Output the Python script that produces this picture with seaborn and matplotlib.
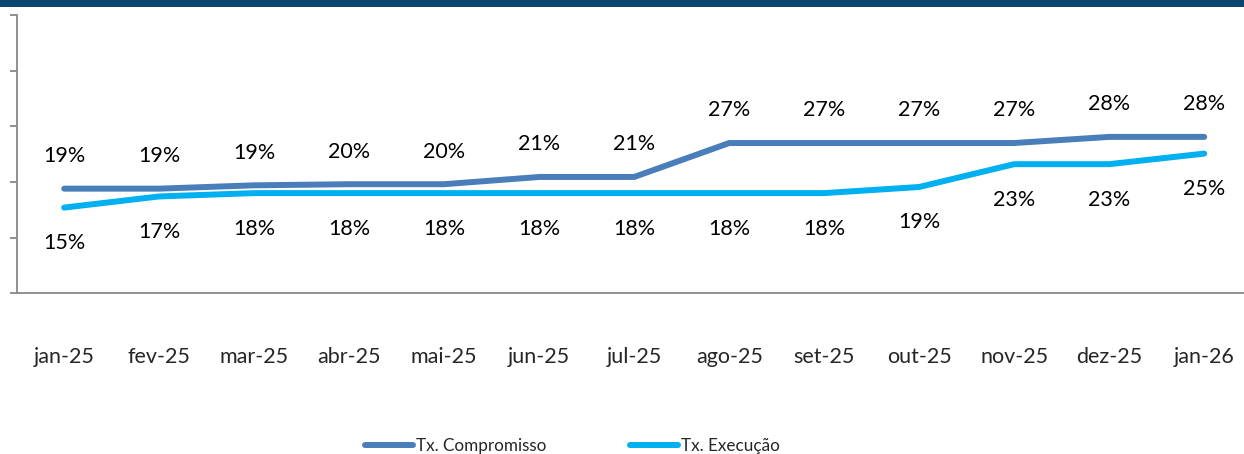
import matplotlib
matplotlib.use("Agg")
import matplotlib.pyplot as plt
import seaborn as sns
import pandas as pd
from matplotlib.patches import Rectangle

months = ["jan-25", "fev-25", "mar-25", "abr-25", "mai-25", "jun-25", "jul-25",
          "ago-25", "set-25", "out-25", "nov-25", "dez-25", "jan-26"]
compromisso = [18.8, 18.8, 19.4, 19.6, 19.6, 20.9, 20.9, 27.0, 27.0, 27.0, 27.0, 28.1, 28.1]
execucao = [15.4, 17.4, 18.0, 18.0, 18.0, 18.0, 18.0, 18.0, 18.0, 19.1, 23.2, 23.2, 25.1]
labels_comp = ["19%", "19%", "19%", "20%", "20%", "21%", "21%", "27%", "27%", "27%", "27%", "28%", "28%"]
labels_exec = ["15%", "17%", "18%", "18%", "18%", "18%", "18%", "18%", "18%", "19%", "23%", "23%", "25%"]
series_names = ["Tx. Compromisso", "Tx. Execução"]
colors = ["#4A7EBB", "#00B0F0"]

sns.set_style("white")
plt.rcParams["font.family"] = ["Lato", "DejaVu Sans"]

df = pd.DataFrame({
    "mes": months * 2,
    "pos": list(range(len(months))) * 2,
    "valor": compromisso + execucao,
    "serie": [series_names[0]] * len(months) + [series_names[1]] * len(months),
})

fig = plt.figure(figsize=(12.44, 4.54), dpi=100)
ax = fig.add_axes([16.7 / 1244, 160.7 / 454, 1235 / 1244, (439 - 160.7) / 454])

sns.lineplot(data=df, x="pos", y="valor", hue="serie", palette=colors,
             linewidth=4.3, ax=ax, legend=False, sort=False)
for line in ax.get_lines():
    line.set_solid_capstyle("round")
    line.set_solid_joinstyle("miter")

fs = 15.5
for i, (v, t) in enumerate(zip(compromisso, labels_comp)):
    ax.annotate(t, (i, v), xytext=(0, 23.5), textcoords="offset points",
                ha="center", va="center", fontsize=fs, color="black")
for i, (v, t) in enumerate(zip(execucao, labels_exec)):
    ax.annotate(t, (i, v), xytext=(0, -25.5), textcoords="offset points",
                ha="center", va="center", fontsize=fs, color="black")

ax.set_xlim(-0.5, len(months) - 0.5)
ax.set_ylim(0, 50)
ax.set_yticks([0, 10, 20, 30, 40, 50])
ax.set_yticklabels([])
ax.set_xticks([p for p in range(len(months))])
ax.set_xticklabels(months, fontsize=fs)
ax.set_xticks([p - 0.5 for p in range(len(months) + 1)], minor=True)
ax.tick_params(axis="x", which="major", length=0, pad=39)
ax.tick_params(axis="x", which="minor", length=5, width=1.3, color="#888888", direction="out")
ax.tick_params(axis="y", which="major", length=5, width=1.3, color="#888888", direction="out", left=True)
ax.set_xlabel("")
ax.set_ylabel("")
for s in ["top", "right"]:
    ax.spines[s].set_visible(False)
for s in ["left", "bottom"]:
    ax.spines[s].set_color("#888888")
    ax.spines[s].set_linewidth(1.3)

handles = [plt.Line2D([0], [0], color=c, lw=4.3, solid_capstyle="round") for c in colors]
fig.legend(handles, series_names, loc="center", bbox_to_anchor=(0.46, 0.018),
           ncol=2, frameon=False, fontsize=12.3, handlelength=2.8, handletextpad=0.18,
           columnspacing=4.9)

fig.patches.append(Rectangle((0, 1 - 7 / 454), 1, 7 / 454, transform=fig.transFigure,
                             facecolor="#0B4671", edgecolor="none", zorder=10))

fig.savefig("out.png", dpi=100)
